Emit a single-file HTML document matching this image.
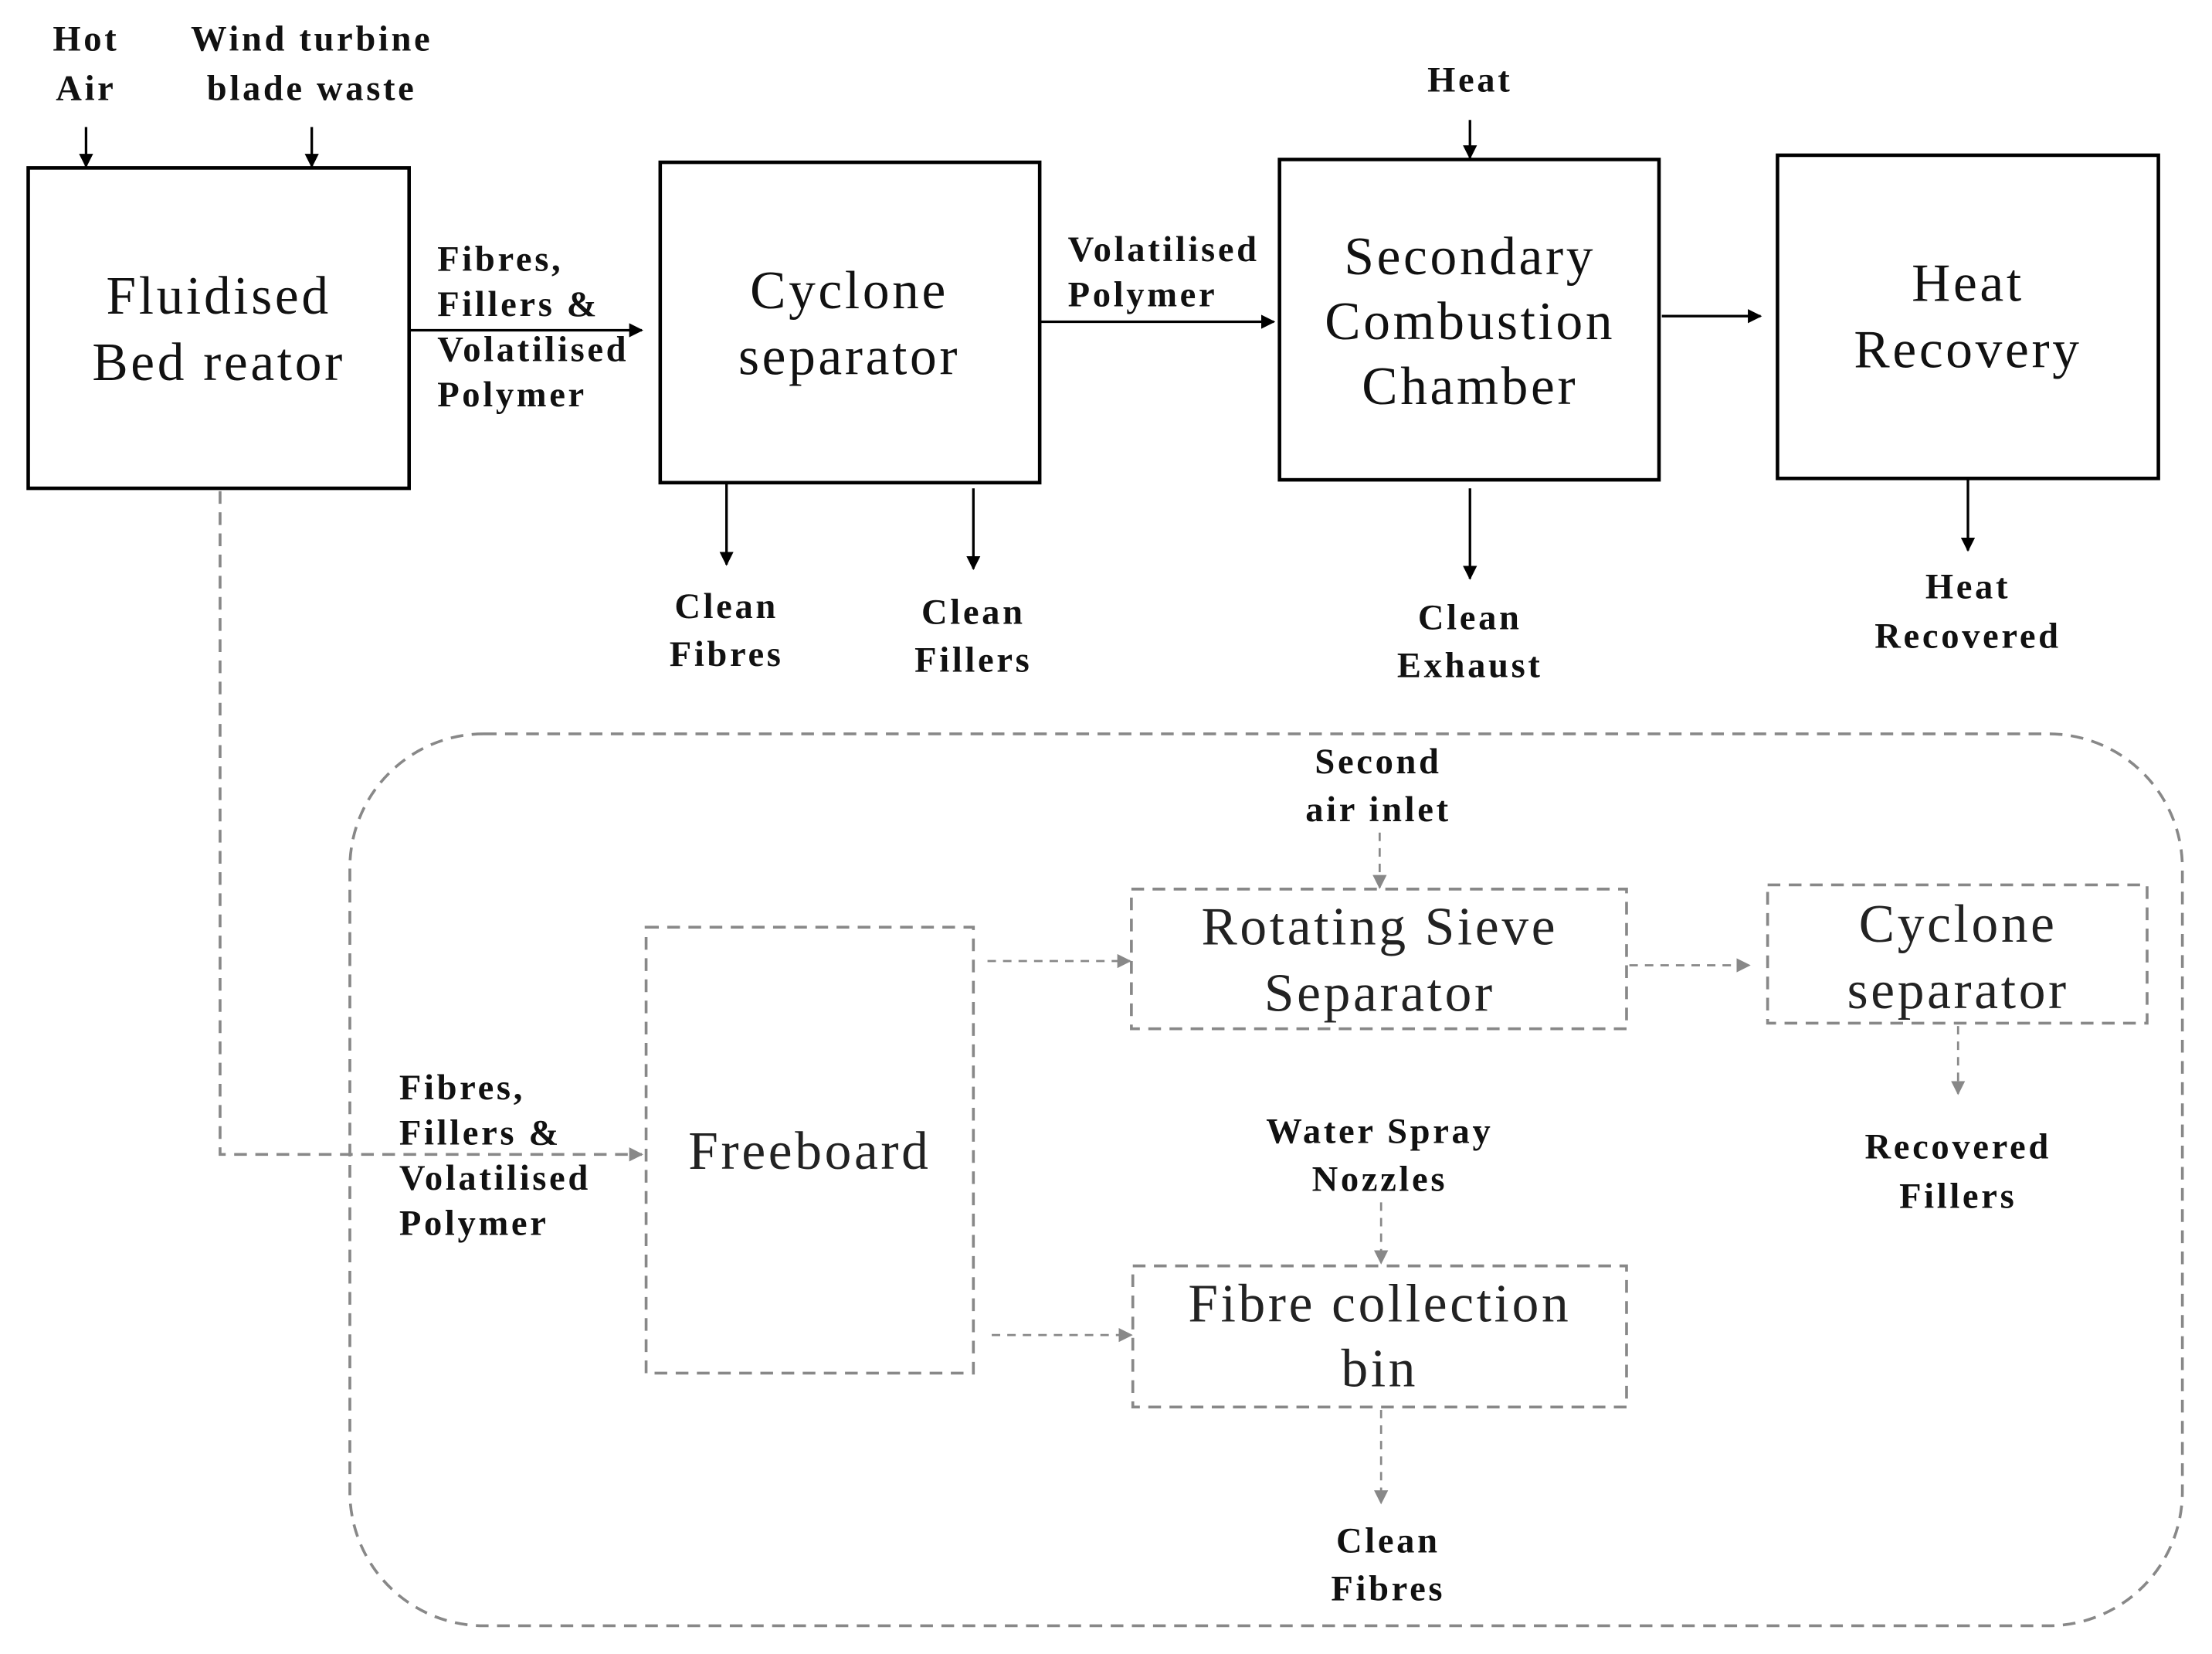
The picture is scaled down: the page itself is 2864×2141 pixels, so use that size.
<!DOCTYPE html>
<html><head><meta charset="utf-8"><style>
html,body{margin:0;padding:0;background:#fff;}
svg{display:block;}
text{font-family:"Liberation Serif","DejaVu Serif",serif;dominant-baseline:central;text-anchor:middle;}
.b{font-weight:bold;font-size:25.5px;fill:#111;letter-spacing:2px;}
.l{text-anchor:start;}
.big{font-size:38px;fill:#111;letter-spacing:2px;}
.gb{font-size:38px;fill:#222;letter-spacing:2px;}
</style></head><body>
<svg width="2864" height="2141" viewBox="0 0 1568 1172" preserveAspectRatio="none" xmlns="http://www.w3.org/2000/svg">
<defs>
<marker id="a" markerWidth="10" markerHeight="10" refX="9" refY="5" orient="auto" markerUnits="userSpaceOnUse"><path d="M0,0 L10,5 L0,10 z" fill="#000"/></marker>
<marker id="g" markerWidth="10" markerHeight="10" refX="9" refY="5" orient="auto" markerUnits="userSpaceOnUse"><path d="M0,0 L10,5 L0,10 z" fill="#888"/></marker>
</defs>
<g stroke="#000" stroke-width="2.5" fill="none">
<rect x="20" y="119" width="270" height="227"/>
<rect x="468" y="115" width="269" height="227"/>
<rect x="907" y="113" width="269" height="227"/>
<rect x="1260" y="110" width="270" height="229"/>
</g>
<g stroke="#000" stroke-width="1.8" marker-end="url(#a)">
<line x1="61" y1="90" x2="61" y2="118"/>
<line x1="221" y1="90" x2="221" y2="118"/>
<line x1="290" y1="234" x2="455" y2="234"/>
<line x1="515" y1="342" x2="515" y2="400"/>
<line x1="690" y1="346" x2="690" y2="403"/>
<line x1="737" y1="228" x2="903" y2="228"/>
<line x1="1042" y1="85" x2="1042" y2="112"/>
<line x1="1178" y1="224" x2="1248" y2="224"/>
<line x1="1042" y1="346" x2="1042" y2="410"/>
<line x1="1395" y1="340" x2="1395" y2="390"/>
</g>
<g stroke="#888" stroke-width="2" fill="none" stroke-dasharray="9,6">
<rect x="248" y="520" width="1299" height="632" rx="95" ry="95"/>
<rect x="458" y="657" width="232" height="316"/>
<rect x="802" y="630" width="351" height="99"/>
<rect x="1253" y="627" width="269" height="98"/>
<rect x="803" y="897" width="350" height="100"/>
<polyline points="156,348 156,818 455,818" marker-end="url(#g)"/>
</g>
<g stroke="#888" stroke-width="1.5" stroke-dasharray="6,5" marker-end="url(#g)">
<line x1="978" y1="590" x2="978" y2="629"/>
<line x1="700" y1="681" x2="801" y2="681"/>
<line x1="1155" y1="684" x2="1240" y2="684"/>
<line x1="1388" y1="727" x2="1388" y2="775"/>
<line x1="979" y1="852" x2="979" y2="895"/>
<line x1="703" y1="946" x2="802" y2="946"/>
<line x1="979" y1="999" x2="979" y2="1065"/>
</g>
<text class="b" x="61" y="28">Hot</text><text class="b" x="61" y="63">Air</text>
<text class="b" x="221" y="28">Wind turbine</text><text class="b" x="221" y="63">blade waste</text>
<text class="big" x="155" y="210">Fluidised</text><text class="big" x="155" y="257">Bed reator</text>
<text class="b l" x="310" y="184">Fibres,</text><text class="b l" x="310" y="216">Fillers &amp;</text><text class="b l" x="310" y="248">Volatilised</text><text class="b l" x="310" y="280">Polymer</text>
<text class="big" x="602" y="206">Cyclone</text><text class="big" x="602" y="253">separator</text>
<text class="b" x="515" y="430">Clean</text><text class="b" x="515" y="464">Fibres</text>
<text class="b" x="690" y="434">Clean</text><text class="b" x="690" y="468">Fillers</text>
<text class="b l" x="757" y="177">Volatilised</text><text class="b l" x="757" y="209">Polymer</text>
<text class="b" x="1042" y="57">Heat</text>
<text class="big" x="1042" y="182">Secondary</text><text class="big" x="1042" y="228">Combustion</text><text class="big" x="1042" y="274">Chamber</text>
<text class="big" x="1395" y="201">Heat</text><text class="big" x="1395" y="248">Recovery</text>
<text class="b" x="1042" y="438">Clean</text><text class="b" x="1042" y="472">Exhaust</text>
<text class="b" x="1395" y="416">Heat</text><text class="b" x="1395" y="451">Recovered</text>
<text class="b" x="977" y="540">Second</text><text class="b" x="977" y="574">air inlet</text>
<text class="gb" x="978" y="657">Rotating Sieve</text><text class="gb" x="978" y="704">Separator</text>
<text class="gb" x="1388" y="655">Cyclone</text><text class="gb" x="1388" y="702">separator</text>
<text class="b l" x="283" y="771">Fibres,</text><text class="b l" x="283" y="803">Fillers &amp;</text><text class="b l" x="283" y="835">Volatilised</text><text class="b l" x="283" y="867">Polymer</text>
<text class="gb" x="574" y="816">Freeboard</text>
<text class="b" x="978" y="802">Water Spray</text><text class="b" x="978" y="836">Nozzles</text>
<text class="b" x="1388" y="813">Recovered</text><text class="b" x="1388" y="848">Fillers</text>
<text class="gb" x="978" y="924">Fibre collection</text><text class="gb" x="978" y="970">bin</text>
<text class="b" x="984" y="1092">Clean</text><text class="b" x="984" y="1126">Fibres</text>
</svg>
</body></html>
